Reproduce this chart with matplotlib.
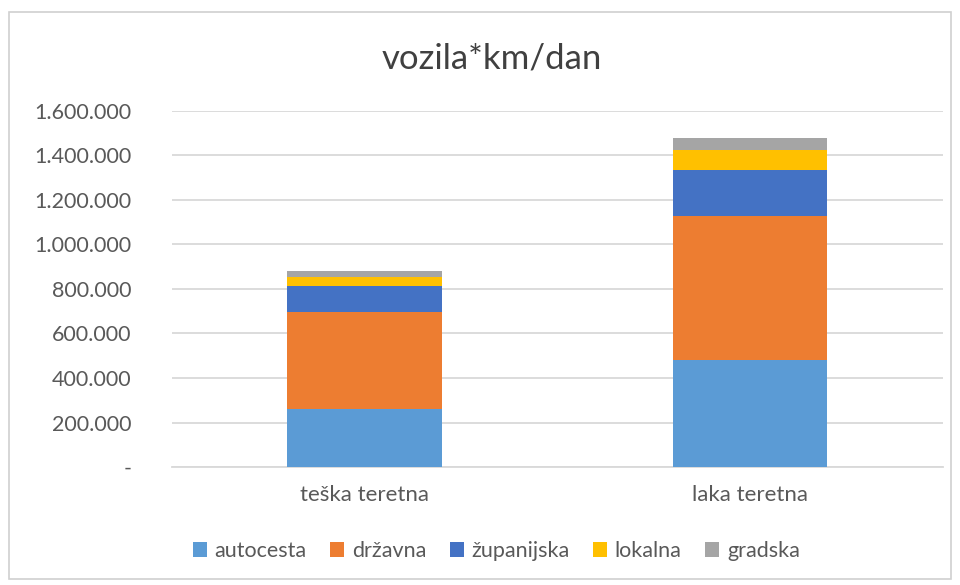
import matplotlib.pyplot as plt
import numpy as np
from matplotlib.patches import Rectangle

categories = ["teška teretna", "laka teretna"]
series = ["autocesta", "državna", "županijska", "lokalna", "gradska"]
autocesta = [261000, 480000]
drzavna = [437000, 650000]
zupanijska = [115000, 206000]
lokalna = [42000, 87000]
gradska = [27000, 55000]
colors = ["#5B9BD5", "#ED7D31", "#4472C4", "#FFC000", "#A5A5A5"]

values = [autocesta, drzavna, zupanijska, lokalna, gradska]
yticks = np.arange(0, 1600001, 200000)

plt.rcParams['font.family'] = ['Lato', 'DejaVu Sans']

fig = plt.figure(figsize=(9.6, 5.85), dpi=100)
ax = fig.add_axes([0.179, 0.2017, 0.803, 0.6086])

x = np.arange(len(categories))
bottom = np.zeros(len(categories))
for name, vals, c in zip(series, values, colors):
    ax.bar(x, vals, 0.4, bottom=bottom, color=c, label=name, zorder=3)
    bottom += np.array(vals)

ax.set_xlim(-0.5, 1.5)
ax.set_ylim(0, 1600000)
ax.set_yticks(yticks)
ax.set_yticklabels(["-"] + [f"{v:,}".replace(",", ".") for v in yticks[1:]])
ax.set_xticks(x)
ax.set_xticklabels(categories)
ax.tick_params(axis="both", length=0, colors="#595959")
ax.tick_params(axis="y", pad=29, labelsize=15.5)
ax.tick_params(axis="x", pad=13, labelsize=16)
ax.yaxis.grid(True, color="#d9d9d9", linewidth=1.3, zorder=0)
for s in ["top", "right", "left"]:
    ax.spines[s].set_visible(False)
ax.spines["bottom"].set_color("#d9d9d9")
ax.spines["bottom"].set_linewidth(1.3)

fig.text(0.512, 0.9, "vozila*km/dan", ha="center", va="center", fontsize=25, color="#404040")

fig.legend(loc="center", bbox_to_anchor=(0.517, 0.058), ncol=5, frameon=False,
           fontsize=15.5, labelcolor="#595959", handlelength=0.65, handleheight=0.65,
           handletextpad=0.35, columnspacing=1.1)

fig.patches.append(Rectangle((0.009, 0.01), 0.982, 0.97, transform=fig.transFigure,
                             fill=False, edgecolor="#d0d0d0", linewidth=1.2))

plt.savefig("out.png")
